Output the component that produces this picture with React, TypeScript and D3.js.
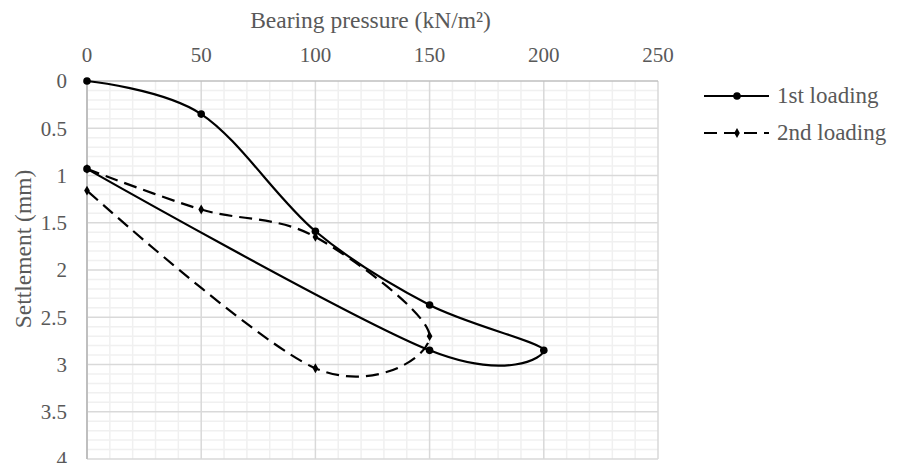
import React, { useEffect, useRef } from 'react';
import * as d3 from 'd3';

// bearing pressure (kN/m2) vs settlement (mm)
const pressure1 = [0, 50, 100, 150, 200, 150, 0];
const settlement1 = [0, 0.35, 1.59, 2.37, 2.85, 2.85, 0.93];
const pressure2 = [0, 50, 100, 150, 100, 0];
const settlement2 = [0.93, 1.36, 1.65, 2.7, 3.04, 1.16];

const xTicks = [0, 50, 100, 150, 200, 250];
const yTicks = [0, 0.5, 1, 1.5, 2, 2.5, 3, 3.5, 4];
const seriesNames = ['1st loading', '2nd loading'];

const width = 897;
const height = 463;
const margin = { top: 81, right: 239, bottom: 4, left: 87 };
const font = '"Liberation Serif", "Times New Roman", serif';
const dash = '13,7';

const App = () => {
    const svgRef = useRef<SVGSVGElement>(null);

    useEffect(() => {
        const svg = d3.select(svgRef.current);
        svg.selectAll('*').remove();

        const innerWidth = width - margin.left - margin.right;
        const innerHeight = height - margin.top - margin.bottom;

        const xScale = d3.scaleLinear().domain([0, 250]).range([0, innerWidth]);
        const yScale = d3.scaleLinear().domain([0, 4]).range([0, innerHeight]);

        const g = svg.append('g')
            .attr('transform', `translate(${margin.left}, ${margin.top})`);

        // minor grid
        const minorX = d3.range(0, 251, 10).filter(d => d % 50 !== 0);
        const minorY = d3.range(0, 41, 1).map(d => d / 10).filter(d => Math.round(d * 10) % 5 !== 0);
        g.selectAll('.minor-x').data(minorX).enter().append('line')
            .attr('x1', d => xScale(d)).attr('x2', d => xScale(d))
            .attr('y1', 0).attr('y2', innerHeight)
            .attr('stroke', '#f0f0f0').attr('stroke-width', 1.5);
        g.selectAll('.minor-y').data(minorY).enter().append('line')
            .attr('y1', d => yScale(d)).attr('y2', d => yScale(d))
            .attr('x1', 0).attr('x2', innerWidth)
            .attr('stroke', '#f0f0f0').attr('stroke-width', 1.5);

        // major grid
        g.selectAll('.major-x').data(xTicks.slice(1)).enter().append('line')
            .attr('x1', d => xScale(d)).attr('x2', d => xScale(d))
            .attr('y1', 0).attr('y2', innerHeight)
            .attr('stroke', '#d9d9d9').attr('stroke-width', 1.5);
        g.selectAll('.major-y').data(yTicks.slice(1)).enter().append('line')
            .attr('y1', d => yScale(d)).attr('y2', d => yScale(d))
            .attr('x1', 0).attr('x2', innerWidth)
            .attr('stroke', '#d9d9d9').attr('stroke-width', 1.5);

        // axis lines
        g.append('line')
            .attr('x1', 0).attr('x2', innerWidth).attr('y1', 0).attr('y2', 0)
            .attr('stroke', '#bfbfbf').attr('stroke-width', 1.5);
        g.append('line')
            .attr('x1', 0).attr('x2', 0).attr('y1', 0).attr('y2', innerHeight)
            .attr('stroke', '#bfbfbf').attr('stroke-width', 2);

        // tick labels
        g.selectAll('.x-tick').data(xTicks).enter().append('text')
            .attr('x', d => xScale(d)).attr('y', -19)
            .attr('text-anchor', 'middle')
            .style('font-family', font).style('font-size', '21px').attr('fill', '#595959')
            .text(d => d);
        g.selectAll('.y-tick').data(yTicks).enter().append('text')
            .attr('x', -20).attr('y', d => yScale(d)).attr('dy', '0.35em')
            .attr('text-anchor', 'end')
            .style('font-family', font).style('font-size', '21px').attr('fill', '#595959')
            .text(d => d);

        // axis titles
        svg.append('text')
            .attr('x', margin.left + innerWidth / 2 - 2).attr('y', 28)
            .attr('text-anchor', 'middle')
            .style('font-family', font).style('font-size', '23.5px').attr('fill', '#595959')
            .text('Bearing pressure (kN/m²)');
        svg.append('text')
            .attr('transform', `translate(31, ${margin.top + innerHeight / 2 - 21}) rotate(-90)`)
            .attr('text-anchor', 'middle')
            .style('font-family', font).style('font-size', '23.5px').attr('fill', '#595959')
            .text('Settlement (mm)');

        const line = d3.line<[number, number]>()
            .curve(d3.curveCatmullRom.alpha(0))
            .x(d => xScale(d[0]))
            .y(d => yScale(d[1]));

        const data1 = pressure1.map((p, i) => [p, settlement1[i]] as [number, number]);
        const data2 = pressure2.map((p, i) => [p, settlement2[i]] as [number, number]);

        g.append('path')
            .datum(data2)
            .attr('fill', 'none').attr('stroke', '#000').attr('stroke-width', 2.2)
            .attr('stroke-dasharray', dash)
            .attr('d', line);
        g.append('path')
            .datum(data1)
            .attr('fill', 'none').attr('stroke', '#000').attr('stroke-width', 2.2)
            .attr('d', line);

        const diamond = d3.symbol().type(d3.symbolDiamond).size(28);
        g.selectAll('.m2').data(data2).enter().append('path')
            .attr('transform', d => `translate(${xScale(d[0])}, ${yScale(d[1])})`)
            .attr('d', diamond).attr('fill', '#000');
        g.selectAll('.m1').data(data1).enter().append('circle')
            .attr('cx', d => xScale(d[0])).attr('cy', d => yScale(d[1]))
            .attr('r', 3.8).attr('fill', '#000');

        // legend
        const legend = svg.append('g').attr('transform', 'translate(704, 96)');
        seriesNames.forEach((name, i) => {
            const row = legend.append('g').attr('transform', `translate(0, ${i * 37})`);
            row.append('line')
                .attr('x1', 0).attr('x2', 65).attr('y1', 0).attr('y2', 0)
                .attr('stroke', '#000').attr('stroke-width', 2.2)
                .attr('stroke-dasharray', i === 0 ? null : dash);
            if (i === 0) {
                row.append('circle').attr('cx', 33).attr('cy', 0).attr('r', 3.8).attr('fill', '#000');
            } else {
                row.append('path').attr('transform', 'translate(33, 0)').attr('d', diamond).attr('fill', '#000');
            }
            row.append('text')
                .attr('x', 73).attr('y', 0).attr('dy', '0.32em')
                .style('font-family', font).style('font-size', '23px').attr('fill', '#595959')
                .text(name);
        });
    }, []);

    return (
        <svg ref={svgRef} width={width} height={height}
            style={{ position: 'absolute', left: 0, top: 0, background: '#fff' }} />
    );
};

export default App;
